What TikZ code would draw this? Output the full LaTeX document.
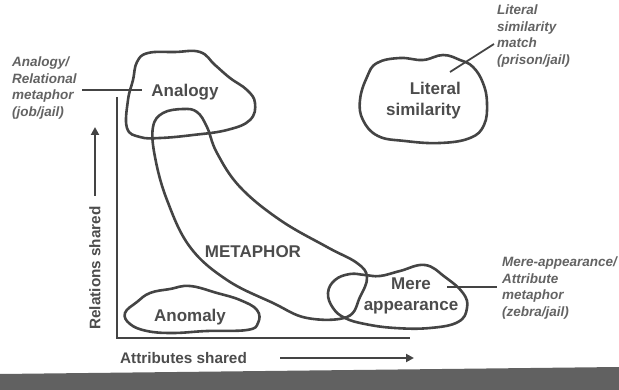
\documentclass[tikz,border=0pt]{standalone}
\usepackage{fontspec}
\setmainfont{Liberation Sans}
\usetikzlibrary{arrows.meta}
\definecolor{ink}{HTML}{444444}
\definecolor{txt}{HTML}{4c4c4c}
\definecolor{lbl}{HTML}{636363}
\tikzset{
  blob/.style={draw=ink, line width=2.6pt, line join=round},
  big/.style={text=txt, font=\fontsize{17}{19}\selectfont\bfseries, inner sep=0pt},
  lab/.style={text=lbl, font=\fontsize{13.5}{16.5}\selectfont\bfseries\itshape, inner sep=0pt, align=left},
  axl/.style={text=txt, font=\fontsize{15.3}{17}\selectfont\bfseries, inner sep=0pt},
  lead/.style={draw=ink, line width=1.8pt},
  axis/.style={draw=ink, line width=2.4pt},
  arr/.style={draw=ink, line width=2.6pt, -{Triangle[length=8pt,width=8pt]}}
}
\begin{document}
\begin{tikzpicture}[x=1pt,y=-1pt]
\useasboundingbox (0,0) rectangle (619,390);
% bottom bar
\fill[black!62] (0,374) -- (619,367) -- (619,390) -- (0,390) -- cycle;
% axes
\coordinate (ytop) at (117,97);
\coordinate (orig) at (117,338);
\coordinate (xend) at (410,338);
\draw[axis] (ytop) -- (orig) -- (xend);
% blobs
\draw[blob] plot[smooth cycle, tension=0.7] coordinates {(127,128) (128,100) (133,80) (137,62) (148,53) (175,52) (200,52) (215,65) (230,78) (247,90) (255,103) (250,120) (227,130) (193,135) (160,138) (140,137)};
\draw[blob] plot[smooth cycle, tension=0.7] coordinates {(367,77) (377,63) (400,58) (423,60) (443,55) (460,60) (473,67) (483,83) (487,103) (484,125) (470,138) (440,143) (405,141) (378,136) (363,120) (360,100)};
\draw[blob] plot[smooth cycle, tension=0.65] coordinates {(153,127) (155,157) (167,200) (190,247) (227,280) (273,303) (307,318) (347,317) (360,297) (367,277) (357,263) (327,247) (280,220) (240,187) (217,153) (207,127) (197,112) (183,109) (163,113)};
\draw[blob] plot[smooth cycle, tension=0.7] coordinates {(328,293) (335,280) (350,274) (365,275) (380,276) (400,271) (425,265) (445,277) (463,293) (467,308) (458,322) (430,328) (395,328) (365,324) (345,318) (333,308)};
\draw[blob] plot[smooth cycle, tension=0.7] coordinates {(125,313) (137,302) (150,293) (170,289) (190,286) (217,293) (240,300) (257,310) (258,323) (247,330) (207,331) (173,333) (147,331) (130,324)};
% blob texts
\node[big] (analogy) at (185,92) {Analogy};
\node[big, align=right, anchor=east, font=\fontsize{17}{21}\selectfont\bfseries] (literal) at (461,101) {Literal\\similarity};
\node[big, align=center, font=\fontsize{17}{21.5}\selectfont\bfseries] (mere) at (411,296) {Mere\\appearance};
\node[big] (metaphor) at (253,252) {METAPHOR};
\node[big] (anomaly) at (190,317) {Anomaly};
% side labels
\node[lab, anchor=north west] (labA) at (12,57) {Analogy/\\Relational\\metaphor\\(job/jail)};
\node[lab, anchor=north west] (labL) at (497,5) {Literal\\similarity\\match\\(prison/jail)};
\node[lab, anchor=north west] (labM) at (502,257) {Mere-appearance/\\Attribute\\metaphor\\(zebra/jail)};
% leader lines
\coordinate (aL) at (82,90);
\coordinate (aR) at (142,90);
\draw[lead] (aL) -- (aR);
\coordinate (lA) at (450,72);
\coordinate (lB) at (494,44);
\draw[lead] (lA) -- (lB);
\coordinate (mA) at (447,287);
\coordinate (mB) at (497,287);
\draw[lead] (mA) -- (mB);
% axis labels and arrows
\node[axl, rotate=90] (rel) at (95,268) {Relations shared};
\coordinate (r0) at (95,196);
\coordinate (r1) at (95,127);
\draw[arr] (r0) -- (r1);
\node[axl, anchor=west] (att) at (120,358) {Attributes shared};
\coordinate (a0) at (280,358);
\coordinate (a1) at (414,358);
\draw[arr] (a0) -- (a1);
\end{tikzpicture}
\end{document}
